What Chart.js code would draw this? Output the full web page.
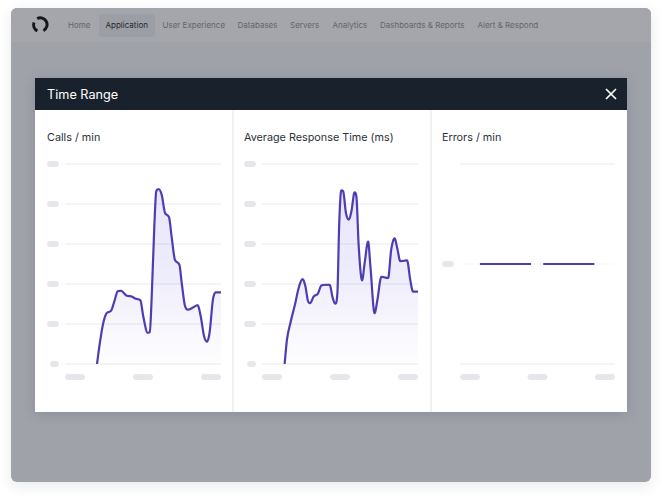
<!DOCTYPE html>
<html>
<head>
<meta charset="utf-8">
<script src="https://cdn.jsdelivr.net/npm/chart.js@4"></script>
<style>
    html, body { margin: 0; padding: 0; background: #fff; }
    body { width: 662px; height: 496px; position: relative; overflow: hidden; font-family: Inter, sans-serif; }
    .app { position: absolute; left: 11px; top: 8px; width: 640px; height: 474px; background: #9fa2a9; border-radius: 6px; box-shadow: 0 4px 14px rgba(30, 35, 60, 0.10); overflow: hidden; }
    .nav { position: absolute; left: 0; top: 0; width: 640px; height: 34px; background: #a4a6ab; }
    .nav span { position: absolute; top: 0; line-height: 34px; font-size: 8px; color: #62656c; white-space: nowrap; }
    .nav span.active { color: #22262c; }
    .nav .pill { position: absolute; left: 88px; top: 6px; width: 56px; height: 23px; background: #9c9ea5; border-radius: 3px; }
    .logo { position: absolute; left: 20px; top: 8px; }
    .modal { position: absolute; left: 35px; top: 78px; width: 592px; height: 334px; background: #fff; box-shadow: 0 2px 12px rgba(40, 44, 70, 0.16); }
    .modal-head { position: absolute; left: 0; top: 0; width: 592px; height: 32px; background: #19222c; color: #fff; font-size: 12.7px; line-height: 33px; text-indent: 12px; }
    .close { position: absolute; left: 570px; top: 10px; }
    .divider { position: absolute; top: 32px; width: 1.5px; height: 302px; background: #f2f2f4; }
    .title { position: absolute; top: 53px; font-size: 10.8px; line-height: 14px; color: #2b3139; white-space: nowrap; }
    canvas { position: absolute; }
</style>
</head>
<body>
<div class="app">
    <div class="nav" id="nav">
        <div class="pill"></div>
        <svg class="logo" width="18" height="18" viewBox="0 0 18 18">
            <path d="M6.2 2.6 A6.6 6.6 0 0 1 12.4 14.6" stroke="#14181e" stroke-width="3" fill="none"/>
            <path d="M6.4 14.8 A6.6 6.6 0 0 1 3 6.6" stroke="#14181e" stroke-width="3" fill="none"/>
        </svg>
    </div>
</div>
<div class="modal" id="modal">
    <div class="modal-head">Time Range</div>
    <svg class="close" width="12" height="12" viewBox="0 0 12 12">
        <path d="M1 1 L11 11 M11 1 L1 11" stroke="#fff" stroke-width="1.7" fill="none"/>
    </svg>
    <div class="divider" style="left: 197px"></div>
    <div class="divider" style="left: 395px"></div>
</div>

<script>
const navLabels = ["Home", "Application", "User Experience", "Databases", "Servers", "Analytics", "Dashboards & Reports", "Alert & Respond"];
const navLeft = [57, 94.5, 151.5, 226.5, 279, 321.5, 369, 466.5];
const panelTitles = ["Calls / min", "Average Response Time (ms)", "Errors / min"];
const titleLeft = [12, 209, 407];

// minutes along the time range, values in chart units (0 to 5)
const callsMinutes = [12.3, 13.5, 14.7, 16, 17.7, 19, 20.3, 21.5, 23.7, 25.6, 27.3, 29, 30.1, 31.8, 32.6, 33.3, 34.4, 35.1, 36, 37.2, 38.5, 40, 41, 42.3, 44, 44.9, 46.2, 47.4, 49.4, 51, 52.2, 53.5, 54.6, 55.6, 56.9, 58, 60];
const callsValues = [0, 0.57, 1.02, 1.27, 1.33, 1.57, 1.82, 1.83, 1.71, 1.69, 1.63, 1.59, 1.19, 0.78, 0.8, 1.6, 3.52, 4.32, 4.37, 4.23, 3.77, 3.67, 3.19, 2.6, 2.48, 2.02, 1.44, 1.36, 1.42, 1.47, 1.19, 0.69, 0.56, 0.78, 1.61, 1.79, 1.79];

const responseMinutes = [8.7, 9.6, 10.9, 12.8, 14.1, 15.6, 16.7, 17.7, 18.5, 19.9, 21.5, 22.8, 24.4, 26, 27.2, 28.2, 29, 29.7, 30.5, 31.2, 32.3, 33.3, 34.4, 35.6, 36.3, 37.2, 38.5, 39.5, 40.8, 41.7, 43.3, 44.4, 45.9, 48.5, 49.7, 51, 52, 53.2, 55.8, 57, 58.1, 60];
const responseValues = [0, 0.61, 1.02, 1.52, 1.9, 2.12, 1.94, 1.57, 1.52, 1.69, 1.76, 1.96, 1.98, 1.98, 1.65, 1.51, 1.78, 3.52, 4.34, 4.32, 3.77, 3.61, 3.82, 4.29, 4.19, 2.94, 2.09, 2.53, 3.06, 2.44, 1.27, 1.61, 2.18, 2.15, 2.86, 3.14, 2.9, 2.57, 2.59, 2.11, 1.81, 1.81];

const errorsMinutes = [7.7, 27.5, 27.6, 32.2, 52];
const errorsValues = [1, 1, null, 1, 1];

const xTicks = [0, 30, 60];
const callsTicks = [0, 1, 2, 3, 4, 5];
const errorsTicks = [0, 1, 2];

const nav = document.getElementById("nav");
navLabels.forEach((label, i) => {
    const span = document.createElement("span");
    span.textContent = label;
    span.style.left = navLeft[i] + "px";
    if (label === "Application") span.className = "active";
    nav.appendChild(span);
});

const modal = document.getElementById("modal");
panelTitles.forEach((label, i) => {
    const div = document.createElement("div");
    div.className = "title";
    div.textContent = label;
    div.style.left = titleLeft[i] + "px";
    modal.appendChild(div);
});

const lineColor = "#4f3cb2";
const gridColor = "#e8e8ec";
const pillColor = "#e6e7ea";

const areaFill = (context) => {
    const area = context.chart.chartArea;
    if (!area) return "transparent";
    const gradient = context.chart.ctx.createLinearGradient(0, area.top + 20, 0, area.bottom);
    gradient.addColorStop(0, "rgba(90, 80, 225, 0.14)");
    gradient.addColorStop(0.5, "rgba(90, 80, 225, 0.10)");
    gradient.addColorStop(1, "rgba(90, 80, 225, 0.005)");
    return gradient;
};

const drawPill = (ctx, x, y, width, height) => {
    ctx.beginPath();
    ctx.roundRect(x, y - height / 2, width, height, height / 2);
    ctx.fill();
};

// tick labels are blanked out as grey pills in this screen
const pillTicks = {
    id: "pillTicks",
    afterDraw(chart, args, options) {
        const { ctx, scales } = chart;
        ctx.save();
        ctx.fillStyle = pillColor;
        scales.x.ticks.forEach((tick, i) => {
            const px = scales.x.getPixelForValue(tick.value);
            const left = i === 0 ? px : i === scales.x.ticks.length - 1 ? px - 20 : px - 10;
            drawPill(ctx, left, scales.x.top + 13, 20, 6);
        });
        scales.y.ticks.forEach((tick) => {
            if (options.onlyTick !== undefined && tick.value !== options.onlyTick) return;
            const width = tick.value === 0 ? 9 : 12;
            drawPill(ctx, 24 - width, scales.y.getPixelForValue(tick.value), width, 6);
        });
        ctx.restore();
    },
};

const createPanelChart = (left, width, right, minutes, values, tickValues, config) => {
    const canvas = document.createElement("canvas");
    canvas.style.left = left + "px";
    canvas.style.top = "72px";
    canvas.style.width = width + "px";
    canvas.style.height = "240px";
    modal.appendChild(canvas);

    return new Chart(canvas, {
        type: "line",
        data: {
            labels: minutes,
            datasets: [{
                data: values,
                borderColor: lineColor,
                borderWidth: config.smooth ? 2.2 : 2,
                borderCapStyle: "butt",
                pointRadius: 0,
                cubicInterpolationMode: config.smooth ? "monotone" : "default",
                tension: 0,
                fill: config.smooth ? "origin" : false,
                backgroundColor: areaFill,
                spanGaps: false,
            }],
        },
        options: {
            responsive: false,
            animation: false,
            devicePixelRatio: 2,
            layout: { padding: { top: 14, right: right, left: 0, bottom: 0 } },
            plugins: {
                legend: { display: false },
                tooltip: { enabled: false },
                pillTicks: { onlyTick: config.onlyTick },
            },
            scales: {
                x: {
                    type: "linear",
                    min: 0,
                    max: 60,
                    afterBuildTicks: (scale) => {
                        scale.ticks = xTicks.map((value) => ({ value }));
                    },
                    afterFit: (scale) => { scale.height = 26; },
                    ticks: { display: false },
                    grid: { display: false },
                    border: { display: false },
                },
                y: {
                    min: tickValues[0],
                    max: tickValues[tickValues.length - 1],
                    afterBuildTicks: (scale) => {
                        scale.ticks = tickValues.map((value) => ({ value }));
                    },
                    afterFit: (scale) => { scale.width = 30; },
                    ticks: { display: false },
                    grid: {
                        drawTicks: false,
                        lineWidth: 1,
                        color: (context) => context.tick.value === config.onlyTick ? "#f6f6f7" : gridColor,
                    },
                    border: { display: false },
                },
            },
        },
        plugins: [pillTicks],
    });
};

createPanelChart(0, 197, 11, callsMinutes, callsValues, callsTicks, { smooth: true });
createPanelChart(197, 197, 11, responseMinutes, responseValues, callsTicks, { smooth: true });
createPanelChart(395, 197, 12, errorsMinutes, errorsValues, errorsTicks, { smooth: false, onlyTick: 1 });
</script>
</body>
</html>
